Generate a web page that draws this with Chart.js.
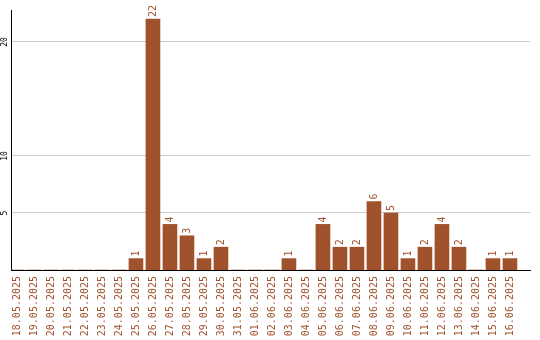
<!DOCTYPE html>
<html><head><meta charset="utf-8">
<script src="https://cdn.jsdelivr.net/npm/chart.js@4/dist/chart.umd.min.js"></script>
<style>html,body{margin:0;padding:0;background:#fff}#w{width:540px;height:340px}</style>
</head><body><div id="w"><canvas id="c"></canvas></div>
<script>
const categories = ["18.05.2025","19.05.2025","20.05.2025","21.05.2025","22.05.2025","23.05.2025","24.05.2025","25.05.2025","26.05.2025","27.05.2025","28.05.2025","29.05.2025","30.05.2025","31.05.2025","01.06.2025","02.06.2025","03.06.2025","04.06.2025","05.06.2025","06.06.2025","07.06.2025","08.06.2025","09.06.2025","10.06.2025","11.06.2025","12.06.2025","13.06.2025","14.06.2025","15.06.2025","16.06.2025"];
const counts = [0,0,0,0,0,0,0,1,22,4,3,1,2,0,0,0,1,0,4,2,2,6,5,1,2,4,2,0,1,1];
const yTicks = [5,10,20];

const BROWN = '#A0522D';
const MONO = '"DejaVu Sans Mono", "Liberation Mono", monospace';

const labelsPlugin = {
  id: 'labels',
  afterDatasetsDraw(chart) {
    const ctx = chart.ctx;
    const meta = chart.getDatasetMeta(0);
    ctx.save();
    ctx.font = '10px ' + MONO;
    ctx.fillStyle = BROWN;
    meta.data.forEach((bar, i) => {
      const v = counts[i];
      if (!v) return;
      ctx.save();
      ctx.translate(bar.x, bar.y - 2);
      ctx.rotate(-Math.PI / 2);
      ctx.textAlign = 'left';
      ctx.textBaseline = 'middle';
      ctx.fillText(String(v), 0, 0);
      ctx.restore();
    });
    const ys = chart.scales.y;
    ctx.font = '8px ' + MONO;
    ctx.fillStyle = '#000';
    yTicks.forEach(t => {
      ctx.save();
      ctx.translate(4.5, ys.getPixelForValue(t));
      ctx.rotate(-Math.PI / 2);
      ctx.textAlign = 'center';
      ctx.textBaseline = 'middle';
      ctx.fillText(String(t), 0, 0);
      ctx.restore();
    });
    ctx.restore();
  }
};

new Chart(document.getElementById('c'), {
  type: 'bar',
  data: {
    datasets: [{
      data: counts.map((v, i) => ({x: i, y: v})),
      backgroundColor: BROWN,
      borderWidth: 0,
      barThickness: 14
    }]
  },
  options: {
    responsive: true,
    maintainAspectRatio: false,
    animation: false,
    layout: {padding: {top: 10, right: 10, left: 0, bottom: 0}},
    plugins: {legend: {display: false}, tooltip: {enabled: false}},
    scales: {
      x: {
        type: 'linear',
        offset: false,
        min: -0.35,
        max: 30.18,
        afterBuildTicks: s => { s.ticks = categories.map((c, i) => ({value: i})); },
        afterFit: s => { s.height = 70; },
        grid: {display: false, drawTicks: false, offset: false},
        border: {display: true, color: '#000', width: 1},
        ticks: {
          autoSkip: false,
          minRotation: 90,
          maxRotation: 90,
          padding: 6,
          color: BROWN,
          font: {family: MONO, size: 10},
          callback: v => categories[v] ?? ''
        }
      },
      y: {
        min: 0,
        max: 22.8,
        afterBuildTicks: s => { s.ticks = yTicks.map(v => ({value: v})); },
        afterFit: s => { s.width = 11; },
        grid: {color: '#cccccc', lineWidth: 1, drawTicks: false},
        border: {display: true, color: '#000', width: 1},
        ticks: {display: false}
      }
    }
  },
  plugins: [labelsPlugin]
});
</script>
</body></html>
